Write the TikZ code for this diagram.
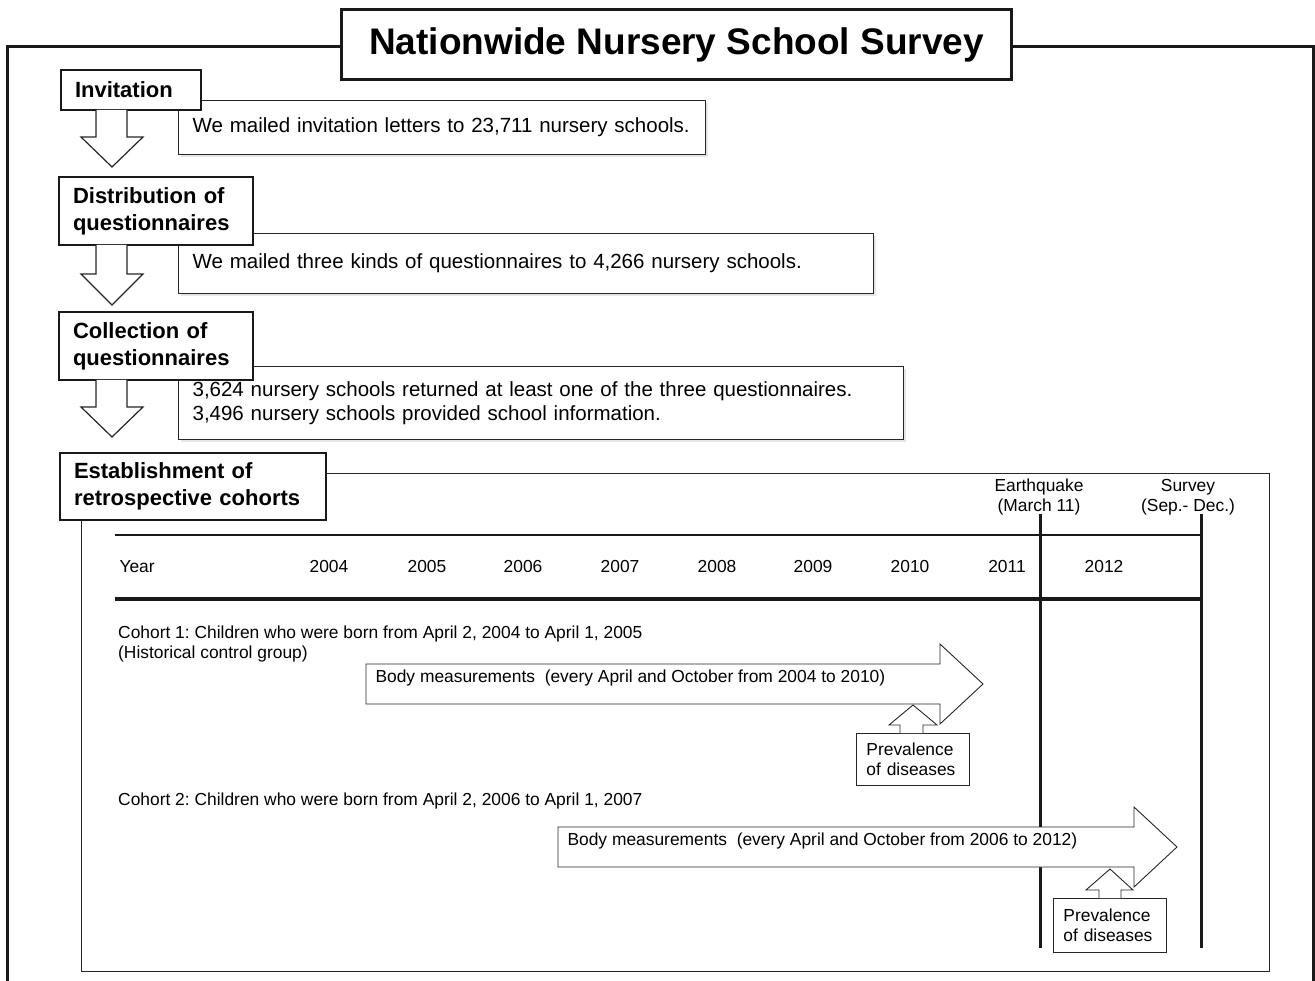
\documentclass[tikz,border=0pt]{standalone}
\usepackage{fontspec}
\setmainfont{Liberation Sans}
\usetikzlibrary{shadows}
\frenchspacing
\begin{document}
\begin{tikzpicture}[x=1pt,y=-1pt,
  frame/.style={line width=3pt,draw=black!90},
  stepbox/.style={draw=black!90,line width=2pt,fill=white,anchor=north west,inner xsep=14pt,inner ysep=0pt,align=left,font=\fontsize{22}{27}\selectfont\bfseries},
  infobox/.style={draw=black!85,line width=1.2pt,fill=white,anchor=north west,inner xsep=14pt,inner ysep=0pt,align=left,font=\fontsize{20.5}{24}\selectfont,
     drop shadow={shadow xshift=2pt,shadow yshift=-2pt,fill=black!20}},
  downarrow/.style={draw=black!85,line width=1.2pt,fill=white},
  bigarrow/.style={draw=black!85,line width=0.9pt,fill=white},
  small/.style={font=\fontsize{17.4}{20}\selectfont},
  prevbox/.style={draw=black!85,line width=0.9pt,fill=white,anchor=north west,inner xsep=10pt,inner ysep=0pt,align=left,font=\fontsize{17.4}{20}\selectfont},
  vline/.style={line width=3pt,draw=black!90},
]
\useasboundingbox (0,0) rectangle (1315,981);

% outer frame
\coordinate (fl) at (7,1000);
\coordinate (fr) at (1313,1000);
\node[draw=black!90,line width=3pt,fill=white,minimum width=670pt,minimum height=70pt,anchor=north west,inner sep=0pt,
  font=\fontsize{37}{42}\selectfont\bfseries] (title) at (340,8) {Nationwide Nursery School Survey};
\draw[frame] (title.west |- 0,47) -- (7,47) -- (fl);
\draw[frame] (title.east |- 0,47) -- (1313,47) -- (fr);

% info boxes
\node[infobox,minimum width=527pt,minimum height=54pt,text width=499pt] (t1) at (178,100)
  {We mailed invitation letters to 23,711 nursery schools.};
\node[infobox,minimum width=695pt,minimum height=60pt,text width=667pt] (t2) at (178,233)
  {We mailed three kinds of questionnaires to 4,266 nursery schools.};
\node[infobox,minimum width=725pt,minimum height=73pt,text width=697pt] (t3) at (178,366)
  {3,624 nursery schools returned at least one of the three questionnaires.\\3,496 nursery schools provided school information.};

% cohort frame
\node[draw=black!85,line width=1.2pt,anchor=north west,minimum width=1188pt,minimum height=498pt,inner sep=0pt] (cf) at (81,473) {};

% step boxes
\node[stepbox,minimum width=140pt,minimum height=40pt,text width=112pt] (s1) at (60,69) {Invitation};
\node[stepbox,minimum width=194pt,minimum height=68pt,text width=166pt] (s2) at (58,176) {Distribution of\\questionnaires};
\node[stepbox,minimum width=194pt,minimum height=68pt,text width=166pt] (s3) at (58,311) {Collection of\\questionnaires};
\node[stepbox,minimum width=266pt,minimum height=67pt,text width=238pt] (s4) at (59,452) {Establishment of\\retrospective cohorts};

% down arrows
\draw[downarrow] (96,110) -- (96,137) -- (81,137) -- (112,167) -- (143,137) -- (127,137) -- (127,110);
\draw[downarrow] (96,245) -- (96,274) -- (81,274) -- (112,305) -- (143,274) -- (127,274) -- (127,245);
\draw[downarrow] (96,380) -- (96,407) -- (81,407) -- (112,437) -- (143,407) -- (127,407) -- (127,380);

% timeline table
\coordinate (tl) at (115,535);
\coordinate (tr) at (1201,535);
\coordinate (bl) at (115,599);
\coordinate (br) at (1201,599);
\draw[line width=1.5pt,black!90] (tl) -- (tr);
\draw[line width=4pt,black!90] (bl) -- (br);
\node[small,anchor=west] (yr) at (116,567) {Year};
\foreach \yy/\xx in {2004/329,2005/427,2006/523,2007/620,2008/717,2009/813,2010/910,2011/1007,2012/1104}
  \node[small] (y\yy) at (\xx,567) {\yy};

\node[small,align=center] (eq) at (1039,497) {Earthquake\\(March 11)};
\node[small,align=center] (sv) at (1188,497) {Survey\\(Sep.- Dec.)};
\coordinate (eqt) at (1040,514);
\coordinate (eqb) at (1040,948);
\coordinate (svt) at (1201,514);
\coordinate (svb) at (1201,948);
\draw[vline] (eqt) -- (eqb);
\draw[vline] (svt) -- (svb);

% cohort 1
\node[small,anchor=north west,align=left,inner sep=0pt] (c1) at (118,626)
  {Cohort 1: Children who were born from April 2, 2004 to April 1, 2005\\(Historical control group)};
\draw[bigarrow] (366,664) -- (940,664) -- (940,644) -- (983,684) -- (940,724) -- (940,704) -- (366,704) -- cycle;
\node[small,anchor=west] (b1) at (372,678) {Body measurements\ \ (every April and October from 2004 to 2010)};
\node[prevbox,minimum width=113pt,minimum height=52pt,text width=93pt] (p1) at (856,733) {Prevalence\\of diseases};
\draw[bigarrow] (900,733) -- (900,725) -- (889,725) -- (913,705) -- (937,725) -- (923,725) -- (923,733);

% cohort 2
\node[small,anchor=north west,inner sep=0pt] (c2) at (118,793)
  {Cohort 2: Children who were born from April 2, 2006 to April 1, 2007};
\draw[bigarrow] (558,827) -- (1134,827) -- (1134,807) -- (1177,847) -- (1134,887) -- (1134,867) -- (558,867) -- cycle;
\node[small,anchor=west] (b2) at (564,841) {Body measurements\ \ (every April and October from 2006 to 2012)};
\node[prevbox,minimum width=113pt,minimum height=54pt,text width=93pt] (p2) at (1053,898) {Prevalence\\of diseases};
\draw[bigarrow] (1099,898) -- (1099,890) -- (1086,890) -- (1110,869) -- (1133,890) -- (1121,890) -- (1121,898);
\end{tikzpicture}
\end{document}
